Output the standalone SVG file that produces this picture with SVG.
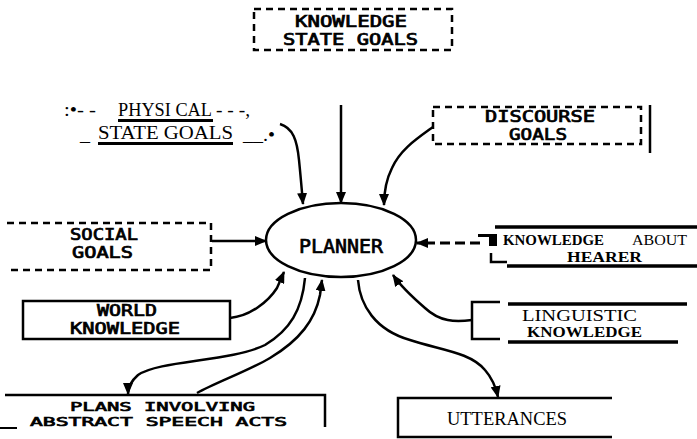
<svg xmlns="http://www.w3.org/2000/svg" width="697" height="439" viewBox="0 0 697 439">
<style>
.px{font-family:"DejaVu Sans Mono",monospace;font-size:15px;fill:#000;stroke:#000;stroke-width:0.7}
.sr{font-family:"Liberation Serif",serif;font-size:19px;fill:#000}
.sb{font-family:"Liberation Serif",serif;font-weight:bold;font-size:15px;fill:#000}
.dash{fill:none;stroke:#000;stroke-width:2.5;stroke-dasharray:7 5}
.solid{fill:none;stroke:#000;stroke-width:2.5}
.thick{fill:none;stroke:#000;stroke-width:3.5}
.conn path{fill:none;stroke:#000;stroke-width:2.5}
</style>
<defs>
<marker id="ah" markerUnits="userSpaceOnUse" markerWidth="12" markerHeight="10" refX="11" refY="5" orient="auto">
<path d="M0,0 L12,5 L0,10 z" fill="#000"/>
</marker>
</defs>
<rect width="697" height="439" fill="#fff"/>

<g id="knowledge-state-goals">
<rect class="dash" x="254" y="9" width="198" height="41"/>
<text class="px" x="295" y="27" textLength="112" lengthAdjust="spacingAndGlyphs">KNOWLEDGE</text>
<text class="px" x="283" y="45" textLength="135" lengthAdjust="spacingAndGlyphs">STATE GOALS</text>
</g>

<g id="physical-state-goals">
<text class="sr" x="64" y="116" textLength="32" lengthAdjust="spacingAndGlyphs">:•- -</text>
<text class="sr" x="118" y="116" textLength="94" lengthAdjust="spacingAndGlyphs">PHYSI CAL</text>
<line x1="118" y1="120.5" x2="213" y2="120.5" stroke="#000" stroke-width="3"/>
<text class="sr" x="216" y="116" textLength="34" lengthAdjust="spacingAndGlyphs">- - -,</text>
<text class="sr" x="80" y="141" textLength="10" lengthAdjust="spacingAndGlyphs">_</text>
<text class="sr" x="98" y="139" textLength="135" lengthAdjust="spacingAndGlyphs">STATE GOALS</text>
<line x1="98" y1="143.5" x2="233" y2="143.5" stroke="#000" stroke-width="3"/>
<text class="sr" x="243" y="141" textLength="32" lengthAdjust="spacingAndGlyphs">__.•</text>
</g>

<g id="discourse-goals">
<rect class="dash" x="433" y="107" width="208" height="37"/>
<text class="px" x="485" y="122" textLength="110" lengthAdjust="spacingAndGlyphs">DISCOURSE</text>
<text class="px" x="509" y="140" textLength="58" lengthAdjust="spacingAndGlyphs">GOALS</text>
<line x1="650" y1="105" x2="650" y2="153" stroke="#000" stroke-width="2.5"/>
</g>

<g id="social-goals">
<path class="dash" d="M7 223 H211 V270 H7"/>
<text class="px" x="70" y="240" textLength="68" lengthAdjust="spacingAndGlyphs">SOCIAL</text>
<text class="px" x="72" y="258" textLength="61" lengthAdjust="spacingAndGlyphs">GOALS</text>
</g>

<g id="planner">
<ellipse class="solid" cx="341" cy="240" rx="75" ry="37"/>
<text class="px" x="299" y="253" style="font-size:19px" textLength="84" lengthAdjust="spacingAndGlyphs">PLANNER</text>
</g>

<g id="knowledge-about-hearer">
<line class="thick" x1="495" y1="227" x2="697" y2="227"/>
<path d="M478 234 H497 V246 H489 V237 H478 Z" fill="#000"/>
<text class="sb" x="503" y="245" textLength="101" lengthAdjust="spacingAndGlyphs">KNOWLEDGE</text>
<text class="sr" x="632" y="245" style="font-size:15px" textLength="55" lengthAdjust="spacingAndGlyphs">ABOUT</text>
<text class="sb" x="567" y="262" textLength="75" lengthAdjust="spacingAndGlyphs">HEARER</text>
<path class="solid" d="M491 253 V262 H507"/>
<line class="thick" x1="507" y1="266" x2="697" y2="266"/>
</g>

<g id="world-knowledge">
<rect class="solid" x="23" y="301" width="207" height="38"/>
<text class="px" x="97" y="316" textLength="60" lengthAdjust="spacingAndGlyphs">WORLD</text>
<text class="px" x="70" y="334" textLength="110" lengthAdjust="spacingAndGlyphs">KNOWLEDGE</text>
</g>

<g id="linguistic-knowledge">
<path class="solid" d="M500 302 H472 V339 H500"/>
<line class="thick" x1="508" y1="304" x2="687" y2="304"/>
<line class="thick" x1="508" y1="342" x2="678" y2="342"/>
<text class="sr" x="522" y="321" style="font-size:16px" textLength="115" lengthAdjust="spacingAndGlyphs">LINGUISTIC</text>
<text class="sb" x="527" y="337" textLength="115" lengthAdjust="spacingAndGlyphs">KNOWLEDGE</text>
</g>

<g id="plans-speech-acts">
<path class="solid" d="M5 395 H325 V427"/>
<line x1="0" y1="428" x2="17" y2="428" stroke="#000" stroke-width="2"/>
<text class="px" x="70" y="411" style="font-size:13px" textLength="185" lengthAdjust="spacingAndGlyphs">PLANS INVOLVING</text>
<text class="px" x="30" y="426" style="font-size:13px" textLength="257" lengthAdjust="spacingAndGlyphs">ABSTRACT SPEECH ACTS</text>
</g>

<g id="utterances">
<path class="solid" d="M612 398 H398 V437 H612"/>
<text class="sr" x="447" y="425" style="font-size:18px" textLength="120" lengthAdjust="spacingAndGlyphs">UTTERANCES</text>
</g>

<g id="connectors" class="conn">
<path d="M280 124 C293 128 297 140 299 160 C301 180 302 192 303 204" marker-end="url(#ah)"/>
<path d="M341 105 V203" marker-end="url(#ah)"/>
<path d="M433 127 C415 140 400 150 392 168 C386 180 384 192 384 205" marker-end="url(#ah)"/>
<path d="M212 241 H266" marker-end="url(#ah)"/>
<path d="M480 243 H417" stroke-dasharray="10 5" style="stroke-width:3" marker-end="url(#ah)"/>
<path d="M230 318 C250 316 268 302 277 288 L284 272" marker-end="url(#ah)"/>
<path d="M472 320 C455 322 440 322 425 308 C410 295 400 285 393 275" marker-end="url(#ah)"/>
<path d="M305 278 C302 310 290 330 265 345 C230 362 160 360 138 375 C130 382 128 388 128 394" marker-end="url(#ah)"/>
<path d="M197 393 C215 383 250 370 270 358 C300 340 315 320 320 295 L322 280" marker-end="url(#ah)"/>
<path d="M358 280 C360 305 375 330 410 340 C440 350 470 352 485 370 C492 378 496 388 498 397" marker-end="url(#ah)"/>
</g>
</svg>
